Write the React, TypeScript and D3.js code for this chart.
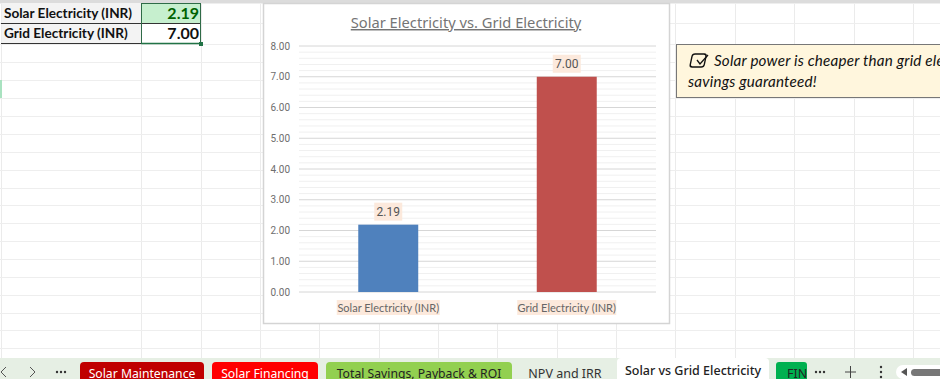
import React, { useMemo } from "react";
import * as d3 from "d3";

const categories = ["Solar Electricity (INR)", "Grid Electricity (INR)"];
const values = [2.19, 7.0];
const barColors = ["#4f81bd", "#c0504d"];
const yTicks = [0, 1, 2, 3, 4, 5, 6, 7, 8];
const yMinorTicks = [0.2, 0.4, 0.6, 0.8, 1.2, 1.4, 1.6, 1.8, 2.2, 2.4, 2.6, 2.8, 3.2, 3.4, 3.6, 3.8, 4.2, 4.4, 4.6, 4.8, 5.2, 5.4, 5.6, 5.8, 6.2, 6.4, 6.6, 6.8, 7.2, 7.4, 7.6, 7.8];
const sheetColumns = [1, 141, 201, 260, 319, 379, 438, 497, 557, 616, 675, 735, 794, 854, 913];
const sheetRows = [3, 23, 44, 62, 80, 98, 116, 134, 152, 170, 188, 205, 223, 241, 259, 277, 295, 313, 330, 348];
const tableRows = [
  { label: "Solar Electricity (INR)", value: "2.19" },
  { label: "Grid Electricity (INR)", value: "7.00" },
];
const tabs = [
  { label: "Solar Maintenance", x: 80, w: 124, fill: "#c00000", color: "#fff" },
  { label: "Solar Financing", x: 212, w: 106, fill: "#ff0000", color: "#fff" },
  { label: "Total Savings, Payback & ROI", x: 326, w: 186, fill: "#92d050", color: "#222" },
];

const UI = "Lato, 'Noto Sans', sans-serif";
const TICK = "Roboto, sans-serif";
const TAB = "'Noto Sans', sans-serif";

export default function App() {
  const x = useMemo(() => d3.scaleBand<string>().domain(categories).range([299, 656]).paddingInner(0.664).paddingOuter(0.332), []);
  const y = useMemo(() => d3.scaleLinear().domain([0, 8]).range([292, 46]), []);
  const fmt = d3.format(".2f");
  return (
    <svg width={940} height={379} style={{ position: "absolute", left: 0, top: 0, background: "#fff" }}>
      <defs>
        <clipPath id="tabclip"><rect x={0} y={353} width={940} height={26} /></clipPath>
        <clipPath id="calloutclip"><rect x={676} y={44} width={264} height={54} /></clipPath>
      </defs>
      {/* sheet grid */}
      {sheetColumns.map((c) => <line key={c} x1={c + 0.5} x2={c + 0.5} y1={3} y2={358} stroke="#ebebeb" />)}
      {sheetRows.map((r) => <line key={r} x1={0} x2={940} y1={r + 0.5} y2={r + 0.5} stroke="#eeeeee" />)}
      <rect x={0} y={0} width={940} height={3} fill="#dcdcdc" />
      <rect x={0} y={80} width={2} height={18} fill="#a9e2c0" />

      {/* table */}
      <rect x={2} y={3} width={139} height={40} fill="#f3f3f3" />
      <rect x={142} y={3} width={59} height={20} fill="#c6efce" />
      <line x1={1} x2={201} y1={23.5} y2={23.5} stroke="#333" strokeWidth={1} />
      <line x1={1} x2={141} y1={43.5} y2={43.5} stroke="#333" strokeWidth={1} />
      <line x1={141.5} x2={141.5} y1={3} y2={44} stroke="#2f6b47" />
      <line x1={200.5} x2={200.5} y1={3} y2={44} stroke="#2f6b47" />
      <line x1={141} x2={201} y1={3.5} y2={3.5} stroke="#2f6b47" />
      <line x1={141} x2={201} y1={43.5} y2={43.5} stroke="#217346" strokeWidth={1.5} />
      <rect x={199} y={42} width={4} height={4} fill="#217346" />
      {tableRows.map((r, i) => (
        <g key={r.label} fontFamily={UI} fontWeight={700}>
          <text x={4} y={18 + i * 20} fontSize={13.6} fill="#111">{r.label}</text>
          <text x={199} y={18.5 + i * 20} fontSize={16} textAnchor="end" fill={i === 0 ? "#006100" : "#111"}>{r.value}</text>
        </g>
      ))}

      {/* chart frame */}
      <rect x={263.5} y={3.5} width={406} height={320} fill="#fff" stroke="#d4d4d4" strokeWidth={1.5} />
      <text x={466} y={28} textAnchor="middle" fontFamily={TAB} fontSize={14.7} fill="#757575" textDecoration="underline">Solar Electricity vs. Grid Electricity</text>

      {yMinorTicks.map((t) => <line key={t} x1={299} x2={656} y1={y(t)} y2={y(t)} stroke="#f0f0f0" strokeWidth={1} />)}
      {yTicks.map((t) => (
        <g key={t}>
          <line x1={299} x2={656} y1={y(t)} y2={y(t)} stroke="#d6d6d6" strokeWidth={1} />
          <text x={290} y={y(t) + 3.5} textAnchor="end" fontFamily={TICK} fontSize={10} fill="#6e6e6e">{fmt(t)}</text>
        </g>
      ))}

      {categories.map((c, i) => {
        const cx = x(c)! + x.bandwidth() / 2;
        const lw = 103;
        return (
          <g key={c}>
            <rect x={x(c)} y={y(values[i])} width={x.bandwidth()} height={y(0) - y(values[i])} fill={barColors[i]} />
            <rect x={cx - 14} y={y(values[i]) - 22} width={28} height={18} fill="#fce9dc" />
            <text x={cx} y={y(values[i]) - 9} textAnchor="middle" fontFamily={TICK} fontSize={12} fill="#555">{fmt(values[i])}</text>
            <rect x={cx - (i === 0 ? lw / 2 : 49.5)} y={300} width={i === 0 ? lw : 99} height={15} fill="#fce9dc" />
            <text x={cx} y={312} textAnchor="middle" fontFamily={UI} fontSize={11} fill="#666">{c}</text>
          </g>
        );
      })}

      {/* callout */}
      <g clipPath="url(#calloutclip)">
        <rect x={676.5} y={44.5} width={290} height={53} fill="#fff6dd" stroke="#777" strokeWidth={1} />
        <rect x={692} y={54} width={14} height={13} rx={2.5} fill="none" stroke="#111" strokeWidth={1.4} transform="skewX(-12) translate(12,0)" />
        <path d="M 697 60 L 700 64 L 708 55" fill="none" stroke="#111" strokeWidth={1.3} />
        <text x={714} y={66} fontFamily={UI} fontStyle="italic" fontSize={15.2} letterSpacing={0.2} fill="#111">Solar power is cheaper than grid electricity,</text>
        <text x={688} y={87} fontFamily={UI} fontStyle="italic" fontSize={15.2} letterSpacing={0.2} fill="#111">savings guaranteed!</text>
      </g>

      {/* tab bar */}
      <rect x={0} y={358} width={940} height={21} fill="#e6efe4" />
      <g clipPath="url(#tabclip)">
        {tabs.map((t) => (
          <g key={t.label}>
            <rect x={t.x} y={362} width={t.w} height={24} rx={4} fill={t.fill} />
            <text x={t.x + t.w / 2} y={378} textAnchor="middle" fontFamily={TAB} fontSize={12.2} fill={t.color}>{t.label}</text>
          </g>
        ))}
        <text x={565} y={378} textAnchor="middle" fontFamily={TAB} fontSize={12.5} fill="#333">NPV and IRR</text>
        <rect x={617} y={358} width={152} height={24} rx={4} fill="#fff" />
        <text x={693} y={375} textAnchor="middle" fontFamily={TAB} fontSize={12.5} fontWeight={500} fill="#222">Solar vs Grid Electricity</text>
        <rect x={776} y={362} width={31} height={24} rx={3} fill="#00b050" />
        <text x={787} y={378} fontFamily={TAB} fontSize={12.5} fill="#222" textAnchor="start">FIN</text>
        <rect x={807} y={358} width={133} height={21} fill="#e6efe4" />
      </g>
      <g fontFamily={TAB} fill="#333">
        <path d="M 6 367 L 1 372 L 6 377" fill="none" stroke="#555" strokeWidth={1} />
        <path d="M 30 367 L 35 372 L 30 377" fill="none" stroke="#555" strokeWidth={1} />
        {[57, 61, 65, 816, 820, 824, 881].map((cx, i) => <circle key={i} cx={cx} cy={372} r={1.2} fill="#333" />)}
        <circle cx={881} cy={367} r={1.2} fill="#333" />
        <circle cx={881} cy={377} r={1.2} fill="#333" />
        <path d="M 845 372 H 856 M 850.5 366 V 378" stroke="#444" strokeWidth={1} />
        <rect x={896} y={365} width={50} height={14} rx={7} fill="#fff" />
        <path d="M 901 372 L 907 368 V 376 Z" fill="#555" />
        <rect x={911} y={369} width={35} height={7} rx={3.5} fill="#777" />
      </g>
    </svg>
  );
}
